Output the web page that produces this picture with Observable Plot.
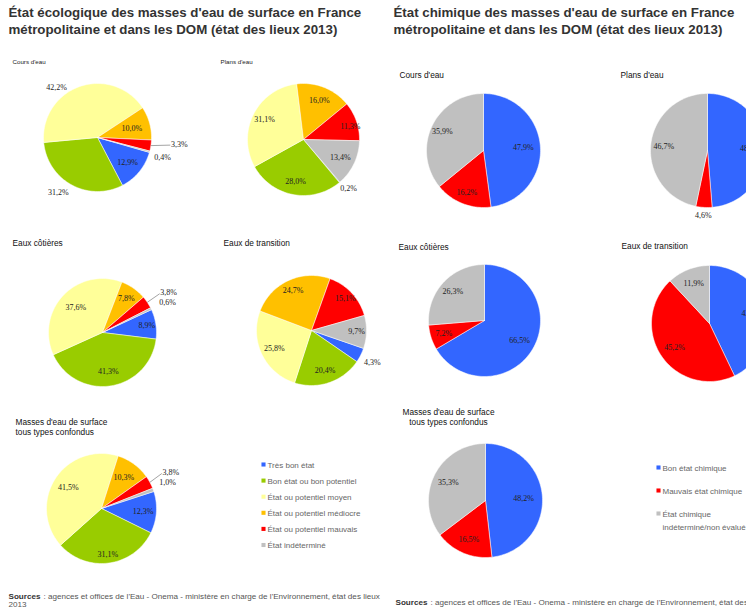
<!DOCTYPE html>
<html><head><meta charset="utf-8">
<script src="https://cdn.jsdelivr.net/npm/d3@7"></script>
<script src="https://cdn.jsdelivr.net/npm/@observablehq/plot@0.6"></script>
<style>
html,body{margin:0;padding:0;background:#fff;overflow:hidden;}
#chart svg{display:block;}
</style>
</head><body><div id="chart"></div>
<script>
// ---------- DATA ----------
const ecoCategories = ["Très bon état", "Bon état ou bon potentiel", "État ou potentiel moyen", "État ou potentiel médiocre", "État ou potentiel mauvais", "État indéterminé"];
const chemCategories = ["Bon état chimique", "Mauvais état chimique", "État chimique\nindéterminé/non évalué"];
const pieNames = ["Cours d'eau", "Plans d'eau", "Eaux côtières", "Eaux de transition", "Masses d'eau de surface\ntous types confondus"];

const ecoCoursDeau      = [12.9, 31.2, 42.2, 10.0, 3.3, 0.4];
const ecoPlansDeau      = [0.2, 28.0, 31.1, 16.0, 11.3, 13.4];
const ecoEauxCotieres   = [8.9, 41.3, 37.6, 7.8, 3.8, 0.6];
const ecoEauxTransition = [4.3, 20.4, 25.8, 24.7, 15.1, 9.7];
const ecoTotal          = [12.3, 31.1, 41.5, 10.3, 3.8, 1.0];

const chemCoursDeau      = [47.9, 16.2, 35.9];
const chemPlansDeau      = [48.7, 4.6, 46.7];
const chemEauxCotieres   = [66.5, 7.2, 26.3];
const chemEauxTransition = [42.9, 45.2, 11.9];
const chemTotal          = [48.2, 16.5, 35.3];

const titleEco  = ["État écologique des masses d'eau de surface en France", "métropolitaine et dans les DOM (état des lieux 2013)"];
const titleChem = ["État chimique des masses d'eau de surface en France", "métropolitaine et dans les DOM (état des lieux 2013)"];
const sourceLabel = "Sources";
const sourceText = "agences et offices de l'Eau - Onema - ministère en charge de l'Environnement, état des lieux";
const sourceYear = "2013";

// ---------- STYLE / LAYOUT ----------
const ecoColors  = ["#3366FF", "#99CC00", "#FFFF99", "#FFC000", "#FF0000", "#C0C0C0"];
const chemColors = ["#3366FF", "#FF0000", "#C0C0C0"];

// pie centre, radius, start angle (deg clockwise from east), label radial factor & angle nudge, subtitle place
const ecoLayout = [
  {cx: 97,  cy: 137, r: 54, start: 16,  k: [[0.72,0],[1.25,7],[1.2,-20],[0.66,0],[1.52,-4],[1.26,2]], leader: 4, tx: 12,  ty: 62,  ts: 6.2},
  {cx: 303, cy: 139, r: 56, start: 49.5,k: [[1.19,-2.5],[0.76,0],[0.78,0],[0.76,0],[0.87,3],[0.73,0]], leader: -1, tx: 220, ty: 62, ts: 6.2},
  {cx: 102, cy: 332, r: 54, start: 335, k: [[0.83,0],[0.72,0],[0.68,0],[0.77,0],[1.43,3],[1.33,1]], leader: 4, tx: 12,  ty: 243, ts: 8.3},
  {cx: 311, cy: 330, r: 55, start: 19,  k: [[1.25,1],[0.76,0],[0.75,0],[0.8,0],[0.84,0],[0.82,0]], leader: -1, tx: 223, ty: 243, ts: 8.3},
  {cx: 101, cy: 508, r: 55, start: 342, k: [[0.76,0],[0.84,0],[0.72,0],[0.69,0],[1.42,1],[1.29,-1.7]], leader: 4, tx: 15, ty: 422, ts: 8.3, anchor: "start"}
];
const chemLayout = [
  {cx: 483, cy: 150, r: 57, start: -90, k: [[0.7,0],[0.79,0],[0.8,0]], leader: -1, tx: 399, ty: 75,  ts: 8.5},
  {cx: 707, cy: 150, r: 57, start: -90, k: [[0.75,0],[1.15,0],[0.77,0]], leader: -1, tx: 620, ty: 75,  ts: 8.5},
  {cx: 484, cy: 320, r: 56, start: -90, k: [[0.72,0],[0.76,0],[0.77,0]], leader: -1, tx: 398, ty: 247, ts: 8.5},
  {cx: 709, cy: 323, r: 58, start: -90, k: [[0.75,0],[0.73,0],[0.75,0]], leader: -1, tx: 621, ty: 246, ts: 8.5},
  {cx: 485, cy: 500, r: 57, start: -90, k: [[0.67,0],[0.74,0],[0.73,0]], leader: -1, tx: 448, ty: 412, ts: 8.3, anchor: "middle"}
];
const ecoLegend  = {x: 263, y: 464, dy: 16.1};
const chemLegend = {x: 658, y: 467, dy: 23};

const W = 746, H = 609;
const fmt = v => v.toFixed(1).replace(".", ",") + "%";
const rad = d => d * Math.PI / 180;

const slicePts = [], labelPts = [], leaderLinks = [], subtitles = [];
function addPie(values, colors, L, id, name) {
  const total = d3.sum(values);
  let a = L.start;
  values.forEach((v, i) => {
    const sweep = v / total * 360, a0 = a, a1 = a + sweep; a = a1;
    const key = id + "-" + i, n = Math.max(2, Math.ceil(sweep / 2));
    slicePts.push({key, x: L.cx, y: L.cy, fill: colors[i]});
    for (let j = 0; j <= n; j++) {
      const t = rad(a0 + (a1 - a0) * j / n);
      slicePts.push({key, x: L.cx + L.r * Math.cos(t), y: L.cy + L.r * Math.sin(t), fill: colors[i]});
    }
    slicePts.push({key, x: L.cx, y: L.cy, fill: colors[i]});
    const [k, da] = L.k[i];
    const m = rad((a0 + a1) / 2 + da);
    const lx = L.cx + k * L.r * Math.cos(m), ly = L.cy + k * L.r * Math.sin(m);
    labelPts.push({x: lx, y: ly, text: fmt(v)});
    if (L.leader === i) {
      const mm = rad((a0 + a1) / 2);
      leaderLinks.push({x1: L.cx + L.r * Math.cos(mm), y1: L.cy + L.r * Math.sin(mm), x2: lx - 9, y2: ly + 1});
    }
  });
  name.split("\n").forEach((t, j) => subtitles.push({x: L.tx, y: L.ty + j * 10, text: t, size: L.ts, anchor: L.anchor || "start"}));
}
const ecoValues  = [ecoCoursDeau, ecoPlansDeau, ecoEauxCotieres, ecoEauxTransition, ecoTotal];
const chemValues = [chemCoursDeau, chemPlansDeau, chemEauxCotieres, chemEauxTransition, chemTotal];
ecoValues.forEach((vals, p) => addPie(vals, ecoColors, ecoLayout[p], "e" + p, pieNames[p]));
chemValues.forEach((vals, p) => addPie(vals, chemColors, chemLayout[p], "c" + p, pieNames[p]));

const subsSmall = subtitles.filter(d => d.size < 7);
const subsStart = subtitles.filter(d => d.size >= 7 && d.anchor === "start");
const subsMid   = subtitles.filter(d => d.size >= 7 && d.anchor === "middle");

const ecoLegendData  = ecoCategories.map((c, i) => ({x: ecoLegend.x, y: ecoLegend.y + i * ecoLegend.dy, text: c, color: ecoColors[i]}));
const chemLegendData = chemCategories.map((c, i) => ({x: chemLegend.x, y: chemLegend.y + i * chemLegend.dy, text: c, color: chemColors[i]}));
const legendData = [...ecoLegendData, ...chemLegendData];

const titles = [
  {x: 8,   y: 12.5, text: titleEco[0]},  {x: 8,   y: 29.5, text: titleEco[1]},
  {x: 393, y: 12.5, text: titleChem[0]}, {x: 393, y: 29.5, text: titleChem[1]}
];
const srcBold = [{x: 8, y: 596, text: sourceLabel}, {x: 395, y: 602, text: sourceLabel}];
const srcRest = [{x: 43, y: 596, text: ": " + sourceText}, {x: 8, y: 604, text: sourceYear}, {x: 430, y: 602, text: ": " + sourceText + " " + sourceYear}];

const sans = "Liberation Sans, Arial, sans-serif";
const serif = "Liberation Serif, Times New Roman, serif";

const chart = Plot.plot({
  width: W, height: H,
  marginTop: 0, marginRight: 0, marginBottom: 0, marginLeft: 0,
  x: {domain: [0, W], range: [0, W], axis: null},
  y: {domain: [0, H], range: [0, H], axis: null},
  color: {type: "identity"},
  style: {background: "#fff"},
  marks: [
    Plot.line(slicePts, {x: "x", y: "y", z: "key", fill: "fill", stroke: "#fff", strokeWidth: 0.5, curve: "linear"}),
    Plot.link(leaderLinks, {x1: "x1", y1: "y1", x2: "x2", y2: "y2", stroke: "#666", strokeWidth: 0.6}),
    Plot.text(labelPts, {x: "x", y: "y", text: "text", fontSize: 8, fontFamily: serif, fill: "#222"}),
    Plot.text(titles, {x: "x", y: "y", text: "text", textAnchor: "start", fontSize: 13.3, fontWeight: "bold", fontFamily: sans, fill: "#333"}),
    Plot.text(subsSmall, {x: "x", y: "y", text: "text", textAnchor: "start", fontSize: 6.2, fontFamily: sans, fill: "#222"}),
    Plot.text(subsStart, {x: "x", y: "y", text: "text", textAnchor: "start", fontSize: 8.3, fontFamily: sans, fill: "#111"}),
    Plot.text(subsMid, {x: "x", y: "y", text: "text", textAnchor: "middle", fontSize: 8.3, fontFamily: sans, fill: "#111"}),
    Plot.dot(legendData, {x: "x", y: "y", symbol: "square", r: 2.3, fill: "color", stroke: null}),
    Plot.text(legendData, {x: d => d.x + 4, y: d => d.y - 6, text: "text", textAnchor: "start", lineAnchor: "top", lineHeight: 1.65, fontSize: 8, fontFamily: sans, fill: "#666"}),
    Plot.text(srcBold, {x: "x", y: "y", text: "text", textAnchor: "start", fontSize: 8.1, fontWeight: "bold", fontFamily: sans, fill: "#333"}),
    Plot.text(srcRest, {x: "x", y: "y", text: "text", textAnchor: "start", fontSize: 8.1, fontFamily: sans, fill: "#555"})
  ]
});
document.getElementById("chart").appendChild(chart);
</script>
</body></html>
